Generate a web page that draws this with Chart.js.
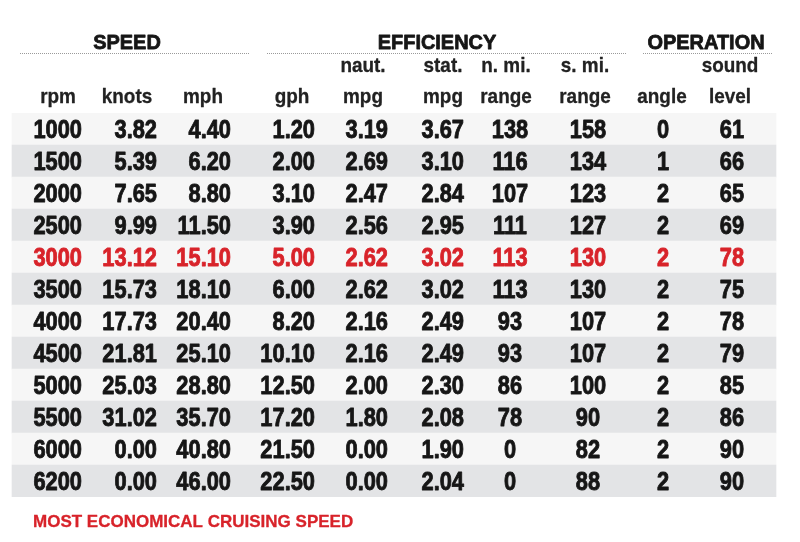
<!DOCTYPE html>
<html>
<head>
<meta charset="utf-8">
<script src="https://cdn.jsdelivr.net/npm/chart.js@4"></script>
<style>
  html, body { margin: 0; padding: 0; background: #ffffff; }
  canvas { display: block; }
</style>
</head>
<body>
<canvas id="table-canvas" width="800" height="542"></canvas>
<script>
const rpm = [1000, 1500, 2000, 2500, 3000, 3500, 4000, 4500, 5000, 5500, 6000, 6200]
const knots = [3.82, 5.39, 7.65, 9.99, 13.12, 15.73, 17.73, 21.81, 25.03, 31.02, 0.00, 0.00]
const mph = [4.40, 6.20, 8.80, 11.50, 15.10, 18.10, 20.40, 25.10, 28.80, 35.70, 40.80, 46.00]
const gph = [1.20, 2.00, 3.10, 3.90, 5.00, 6.00, 8.20, 10.10, 12.50, 17.20, 21.50, 22.50]
const naut_mpg = [3.19, 2.69, 2.47, 2.56, 2.62, 2.62, 2.16, 2.16, 2.00, 1.80, 0.00, 0.00]
const stat_mpg = [3.67, 3.10, 2.84, 2.95, 3.02, 3.02, 2.49, 2.49, 2.30, 2.08, 1.90, 2.04]
const nmi_range = [138, 116, 107, 111, 113, 113, 93, 93, 86, 78, 0, 0]
const smi_range = [158, 134, 123, 127, 130, 130, 107, 107, 100, 90, 82, 88]
const angle = [0, 1, 2, 2, 2, 2, 2, 2, 2, 2, 2, 2]
const sound = [61, 66, 65, 69, 78, 75, 78, 79, 85, 86, 90, 90]

const highlight_rpm = 3000
const footnote = "MOST ECONOMICAL CRUISING SPEED"

const groups = [
    {title: "SPEED", center: 127, from: 20, to: 249},
    {title: "EFFICIENCY", center: 437, from: 267, to: 627},
    {title: "OPERATION", center: 706, from: 643, to: 772}
]

// column layout: where each column sits on the x scale and how it is aligned
const columns = [
    {top: "", head: "rpm", values: rpm, digits: 0, x: 82, align: "right", hx: 58},
    {top: "", head: "knots", values: knots, digits: 2, x: 157, align: "right", hx: 127},
    {top: "", head: "mph", values: mph, digits: 2, x: 231, align: "right", hx: 203},
    {top: "", head: "gph", values: gph, digits: 2, x: 315, align: "right", hx: 292},
    {top: "naut.", head: "mpg", values: naut_mpg, digits: 2, x: 388, align: "right", hx: 363},
    {top: "stat.", head: "mpg", values: stat_mpg, digits: 2, x: 464, align: "right", hx: 443},
    {top: "n. mi.", head: "range", values: nmi_range, digits: 0, x: 510, align: "center", hx: 506},
    {top: "s. mi.", head: "range", values: smi_range, digits: 0, x: 588, align: "center", hx: 585},
    {top: "", head: "angle", values: angle, digits: 0, x: 663, align: "center", hx: 662},
    {top: "sound", head: "level", values: sound, digits: 0, x: 732, align: "center", hx: 730}
]

const TEXT_DARK = "#161616"
const TEXT_RED = "#d8232a"
const BAND_LIGHT = "#f6f6f6"
const BAND_GRAY = "#e3e4e6"

// heavy = extra stroke to get closer to the black condensed face of the original
function drawText(ctx, text, x, y, align, font, color, sx, heavy){
    ctx.save()
    ctx.translate(x, y)
    ctx.scale(sx, 1)
    ctx.font = font
    ctx.fillStyle = color
    ctx.textAlign = align
    ctx.textBaseline = "alphabetic"
    ctx.fillText(text, 0, 0)
    if (heavy){
        ctx.strokeStyle = color
        ctx.lineWidth = heavy
        ctx.lineJoin = "round"
        ctx.strokeText(text, 0, 0)
    }
    ctx.restore()
}

const tablePlugin = {
    id: "tableText",
    afterDatasetsDraw(chart){
        const ctx = chart.ctx
        const xs = chart.scales.x
        const ys = chart.scales.y
        const top = chart.chartArea.top
        const bottom = chart.chartArea.bottom

        // group titles with dotted rule
        groups.forEach(function(g){
            drawText(ctx, g.title, xs.getPixelForValue(g.center), top - 64,
                "center", "bold 21px 'Liberation Sans', Arial, sans-serif", TEXT_DARK, 0.95, 0.8)
            ctx.save()
            ctx.strokeStyle = "#9a9a9a"
            ctx.lineWidth = 1
            ctx.setLineDash([1, 1])
            ctx.beginPath()
            ctx.moveTo(xs.getPixelForValue(g.from), top - 59.5)
            ctx.lineTo(xs.getPixelForValue(g.to), top - 59.5)
            ctx.stroke()
            ctx.restore()
        })

        // column headers
        const headFont = "bold 21px 'Liberation Sans', Arial, sans-serif"
        columns.forEach(function(c){
            const hx = xs.getPixelForValue(c.hx)
            if (c.top) drawText(ctx, c.top, hx, top - 41, "center", headFont, "#222222", 0.9, 0.3)
            drawText(ctx, c.head, hx, top - 10, "center", headFont, "#222222", 0.9, 0.3)
        })

        // body cells
        const cellFont = "bold 26px 'Liberation Sans', Arial, sans-serif"
        rpm.forEach(function(r, i){
            const y = ys.getPixelForValue(i) + 9
            const color = r == highlight_rpm ? TEXT_RED : TEXT_DARK
            columns.forEach(function(c){
                const txt = c.values[i].toFixed(c.digits)
                drawText(ctx, txt, xs.getPixelForValue(c.x), y, c.align, cellFont, color, 0.84, 0.9)
            })
        })

        drawText(ctx, footnote, xs.getPixelForValue(33), bottom + 30,
            "left", "bold 17px 'Liberation Sans', Arial, sans-serif", TEXT_RED, 1, 0.3)
    }
}

const band_data = rpm.map(function(){ return [12, 776] })
const band_colors = rpm.map(function(r, i){ return i % 2 == 0 ? BAND_LIGHT : BAND_GRAY })

new Chart(document.getElementById("table-canvas"), {
    type: "bar",
    data: {
        labels: rpm.map(String),
        datasets: [{
            data: band_data,
            backgroundColor: band_colors,
            borderWidth: 0,
            barPercentage: 1,
            categoryPercentage: 1
        }]
    },
    options: {
        indexAxis: "y",
        responsive: false,
        animation: false,
        layout: {padding: {top: 113, bottom: 45, left: 0, right: 0}},
        scales: {
            x: {type: "linear", min: 0, max: 800, display: false},
            y: {display: false}
        },
        plugins: {
            legend: {display: false},
            tooltip: {enabled: false}
        }
    },
    plugins: [tablePlugin]
})
</script>
</body>
</html>
